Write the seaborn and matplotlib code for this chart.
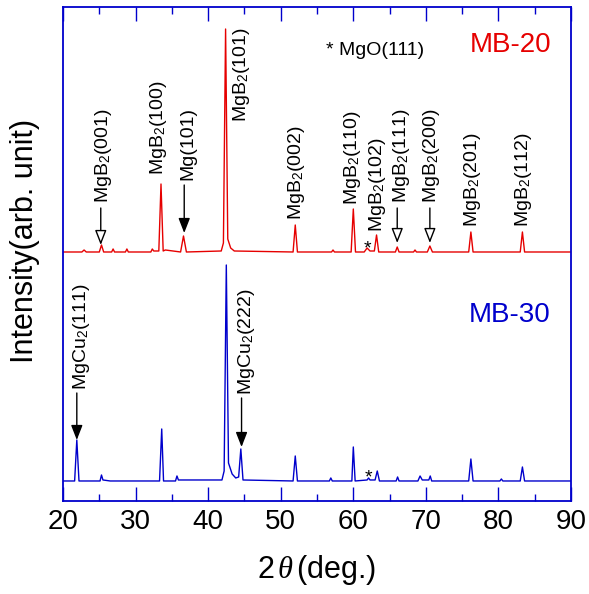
import numpy as np
import pandas as pd
import matplotlib
matplotlib.use("Agg")
import matplotlib.pyplot as plt
import seaborn as sns

# ---- data (y in arbitrary units) ----
red_x = [20, 22.6, 22.9, 23.2, 25.0, 25.3, 25.6, 26.7, 26.9, 27.1, 28.6, 28.8, 29.0,
         32.1, 32.3, 32.5, 33.2, 33.5, 33.8, 34.1, 36.2, 36.6, 37.0, 41.8, 42.1, 42.4,
         42.7, 43.1, 43.6, 51.7, 52.0, 52.3, 57.0, 57.2, 57.4, 59.7, 60.0, 60.3, 61.5,
         61.9, 62.3, 62.9, 63.2, 63.5, 65.8, 66.05, 66.3, 68.3, 68.5, 68.7, 70.2, 70.55,
         70.9, 75.9, 76.2, 76.5, 83.0, 83.3, 83.6, 90]
red_y = [249, 249, 251, 249, 249, 256, 249, 249, 252, 249, 249, 252, 249,
         249, 252, 250, 250, 317, 250, 251, 249, 265, 249, 250, 258, 472,
         262, 253, 250, 249, 276, 249, 249, 251, 249, 249, 292, 249, 249,
         253, 250, 250, 266, 249, 249, 254, 249, 249, 251, 249, 249, 255,
         249, 249, 269, 249, 249, 269, 249, 249]

blue_x = [20, 21.6, 21.9, 22.2, 25.1, 25.3, 25.5, 26.5, 33.3, 33.6, 33.85, 35.5, 35.7,
          35.9, 41.9, 42.2, 42.5, 42.8, 43.3, 43.8, 44.2, 44.5, 44.8, 51.7, 52.0, 52.3,
          56.7, 56.9, 57.1, 59.8, 60.0, 60.25, 61.9, 62.1, 62.3, 63.0, 63.3, 63.6, 65.9,
          66.1, 66.3, 68.9, 69.2, 69.5, 70.4, 70.6, 70.8, 75.9, 76.2, 76.5, 80.2, 80.4,
          80.6, 83.0, 83.3, 83.6, 90]
blue_y = [20, 20, 61, 20, 20, 26, 21, 20, 20, 72, 20, 20, 25,
          21, 21, 30, 236, 38, 27, 23, 24, 52, 21, 20, 45, 20,
          20, 23, 20, 20, 54, 20, 21, 23, 21, 21, 30, 20, 20,
          24, 20, 20, 25, 21, 21, 25, 20, 20, 42, 20, 20, 22,
          20, 20, 34, 20, 20]

# peak labels: text, x of text centre, y of text bottom
red_labels = ["MgB$_\\mathregular{2}$(001)", "MgB$_\\mathregular{2}$(100)", "Mg(101)",
              "MgB$_\\mathregular{2}$(101)", "MgB$_\\mathregular{2}$(002)",
              "MgB$_\\mathregular{2}$(110)", "MgB$_\\mathregular{2}$(102)",
              "MgB$_\\mathregular{2}$(111)", "MgB$_\\mathregular{2}$(200)",
              "MgB$_\\mathregular{2}$(201)", "MgB$_\\mathregular{2}$(112)"]
red_label_x = [25.55, 33.2, 37.2, 44.6, 52.2, 59.9, 63.3, 66.6, 70.8, 76.4, 83.4]
red_label_y = [298, 326, 321, 379, 281, 296, 269, 298, 298, 274, 274]

blue_labels = ["MgCu$_\\mathregular{2}$(111)", "MgCu$_\\mathregular{2}$(222)"]
blue_label_x = [22.6, 45.3]
blue_label_y = [111, 106]

# arrows: x, start y, tip y, filled?
arrow_x = [25.2, 36.7, 66.05, 70.55, 21.9, 44.6]
arrow_y0 = [293, 316, 293, 293, 108, 103]
arrow_y1 = [256, 268, 258, 258, 61, 54]
arrow_filled = [False, True, False, False, True, True]

star_x = [61.9, 62.1]
star_y = [248, 19]

sample_names = ["MB-20", "MB-30"]
sample_x = [81.6, 81.5]
sample_y = [456, 186]

x_ticks = [20, 30, 40, 50, 60, 70, 80, 90]

RED = "#E60000"
BLUE = "#0000CC"

sns.set_style("ticks")
plt.rcParams["font.family"] = ["Liberation Sans", "DejaVu Sans"]
plt.rcParams["mathtext.fontset"] = "custom"
plt.rcParams["mathtext.rm"] = "Liberation Sans"
plt.rcParams["mathtext.it"] = "Liberation Serif:italic"
plt.rcParams["text.color"] = "black"
plt.rcParams["axes.labelcolor"] = "black"

fig = plt.figure(figsize=(5.89, 5.94), dpi=100)
ax = fig.add_axes([0.107, 0.1566, 0.8625, 0.8316])

df_red = pd.DataFrame({"x": red_x, "y": red_y})
df_blue = pd.DataFrame({"x": blue_x, "y": blue_y})
sns.lineplot(data=df_red, x="x", y="y", ax=ax, color=RED, lw=1.0, sort=False, estimator=None)
sns.lineplot(data=df_blue, x="x", y="y", ax=ax, color=BLUE, lw=1.0, sort=False, estimator=None)

ax.set_xlim(20, 90)
ax.set_ylim(0, 494)
ax.set_xticks(x_ticks)
ax.set_xticks([25, 35, 45, 55, 65, 75, 85], minor=True)
ax.set_yticks([])
ax.tick_params(axis="x", which="major", direction="in", length=10, width=1.0,
               color=BLUE, labelcolor="black", top=True, bottom=True, labelsize=20, pad=6)
ax.tick_params(axis="x", which="minor", direction="in", length=5, width=1.0,
               color=BLUE, top=True, bottom=True)
for s in ax.spines.values():
    s.set_color(BLUE)
    s.set_linewidth(1.3)

ax.set_xlabel("2$\\,\\theta\\,$(deg.)", fontsize=22, labelpad=13)
ax.set_ylabel("Intensity(arb. unit)", fontsize=22)
ax.yaxis.set_label_coords(-0.045, 0.526)

for t, x, y in zip(red_labels, red_label_x, red_label_y):
    ax.text(x, y, t, rotation=90, ha="center", va="bottom", fontsize=14)
for t, x, y in zip(blue_labels, blue_label_x, blue_label_y):
    ax.text(x, y, t, rotation=90, ha="center", va="bottom", fontsize=14)

for x, y0, y1, f in zip(arrow_x, arrow_y0, arrow_y1, arrow_filled):
    ax.annotate("", xy=(x, y1), xytext=(x, y0),
                arrowprops=dict(arrowstyle="-|>,head_length=0.9,head_width=0.35",
                                fc="black" if f else "white", ec="black", lw=1.0,
                                shrinkA=0, shrinkB=0))

for x, y in zip(star_x, star_y):
    ax.text(x, y, "*", ha="center", va="baseline", fontsize=14)

ax.text(63.0, 451, "* MgO(111)", ha="center", va="center", fontsize=14)
ax.text(sample_x[0], sample_y[0], sample_names[0], ha="center", va="center", fontsize=20, color=RED)
ax.text(sample_x[1], sample_y[1], sample_names[1], ha="center", va="center", fontsize=20, color=BLUE)

fig.savefig("out.png", dpi=100)
